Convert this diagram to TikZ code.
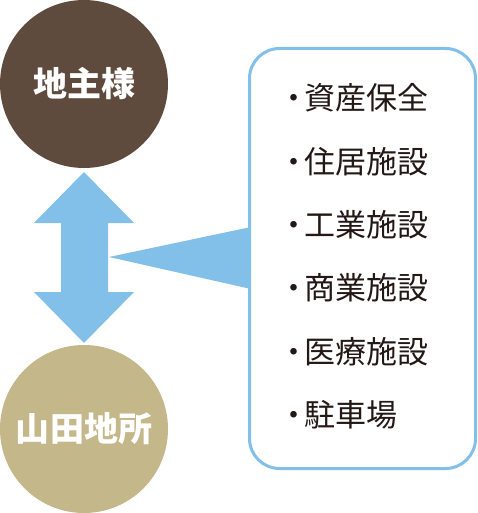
\documentclass[tikz,border=0pt]{standalone}
\usepackage{fontspec}
\newfontfamily\cjk{Noto Sans CJK JP}
\definecolor{brownc}{HTML}{5E4B3D}
\definecolor{beigec}{HTML}{C4B789}
\definecolor{bluec}{HTML}{82C0E9}
\definecolor{textc}{HTML}{231815}
\begin{document}
\begin{tikzpicture}[x=1pt,y=-1pt,
  bigcircle/.style={circle, minimum size=168pt, inner sep=0pt, text=white, font=\cjk\bfseries\fontsize{34}{40}\selectfont},
  item/.style={text=textc, anchor=west, font=\cjk\fontsize{31}{36}\selectfont, inner sep=0pt}]
\useasboundingbox (0,0) rectangle (478,513);
\node[bigcircle, fill=brownc] (owner) at (84,84) {地主様};
\node[bigcircle, fill=beigec] (yamada) at (84,429) {山田地所};
% double arrow
\fill[bluec] (84,172) -- (134,223) -- (108,223) -- (108,292) -- (134,292) -- (84,343)
  -- (34,292) -- (61,292) -- (61,223) -- (34,223) -- cycle;
% pointer triangle
\fill[bluec] (109,257) -- (251,227) -- (251,289) -- cycle;
% list box
\draw[bluec, line width=3pt, fill=white, rounded corners=30pt] (249.5,48.5) rectangle (475.5,468.5);
\foreach \t [count=\i] in {資産保全,住居施設,工業施設,商業施設,医療施設,駐車場}{
  \node[item] (t\i) at (278,{98+63.4*(\i-1)}) {・\kern-5pt\t};
}
\end{tikzpicture}
\end{document}
